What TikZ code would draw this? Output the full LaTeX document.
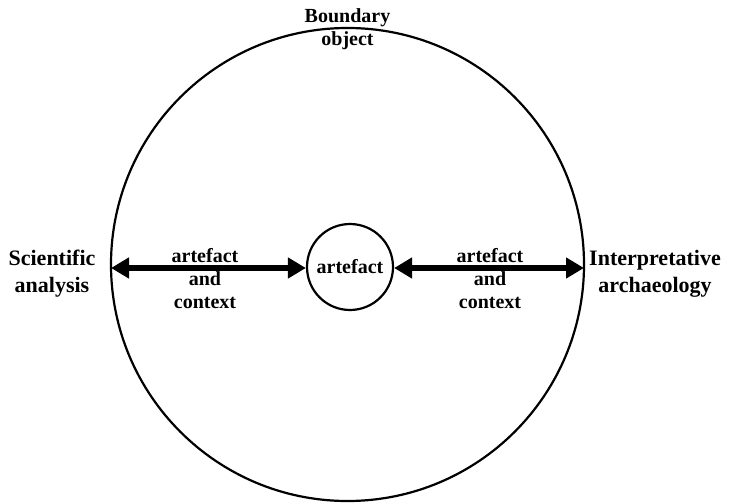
\documentclass[tikz,border=0pt]{standalone}
\usepackage{fontspec}
\setmainfont{Liberation Serif}
\usetikzlibrary{arrows.meta}
\tikzset{
  ring/.style={draw=black, line width=2.2bp, circle, inner sep=0pt},
  lbl/.style={align=center, inner sep=0pt, font=\fontsize{20bp}{23bp}\selectfont\bfseries},
  side/.style={align=center, inner sep=0pt, font=\fontsize{22bp}{27bp}\selectfont\bfseries},
  dbl/.style={line width=5bp, {Triangle[length=18bp,width=20bp]}-{Triangle[length=18bp,width=20bp]}, shorten <=0pt, shorten >=0pt}
}
\begin{document}
\begin{tikzpicture}[x=1bp,y=-1bp]
\useasboundingbox (0,0) rectangle (745,503);
\node[ring, minimum size=473bp] (outer) at (347.5,264.5) {};
\node[ring, minimum size=86bp, lbl] (inner) at (350,267) {artefact};
\node[lbl] (bo) at (347.5,29) {Boundary\\object};
\node[side] (sci) at (52,274) {Scientific\\analysis};
\node[side] (interp) at (655,274) {Interpretative\\archaeology};
\coordinate (lend) at (111,268);
\coordinate (rend) at (584,268);
\draw[dbl] (lend) -- (inner.west |- lend);
\draw[dbl] (inner.east |- rend) -- (rend);
\node[lbl] (lc) at (205,279) {artefact\\and\\context};
\node[lbl] (rc) at (490,279) {artefact\\and\\context};
\end{tikzpicture}
\end{document}
